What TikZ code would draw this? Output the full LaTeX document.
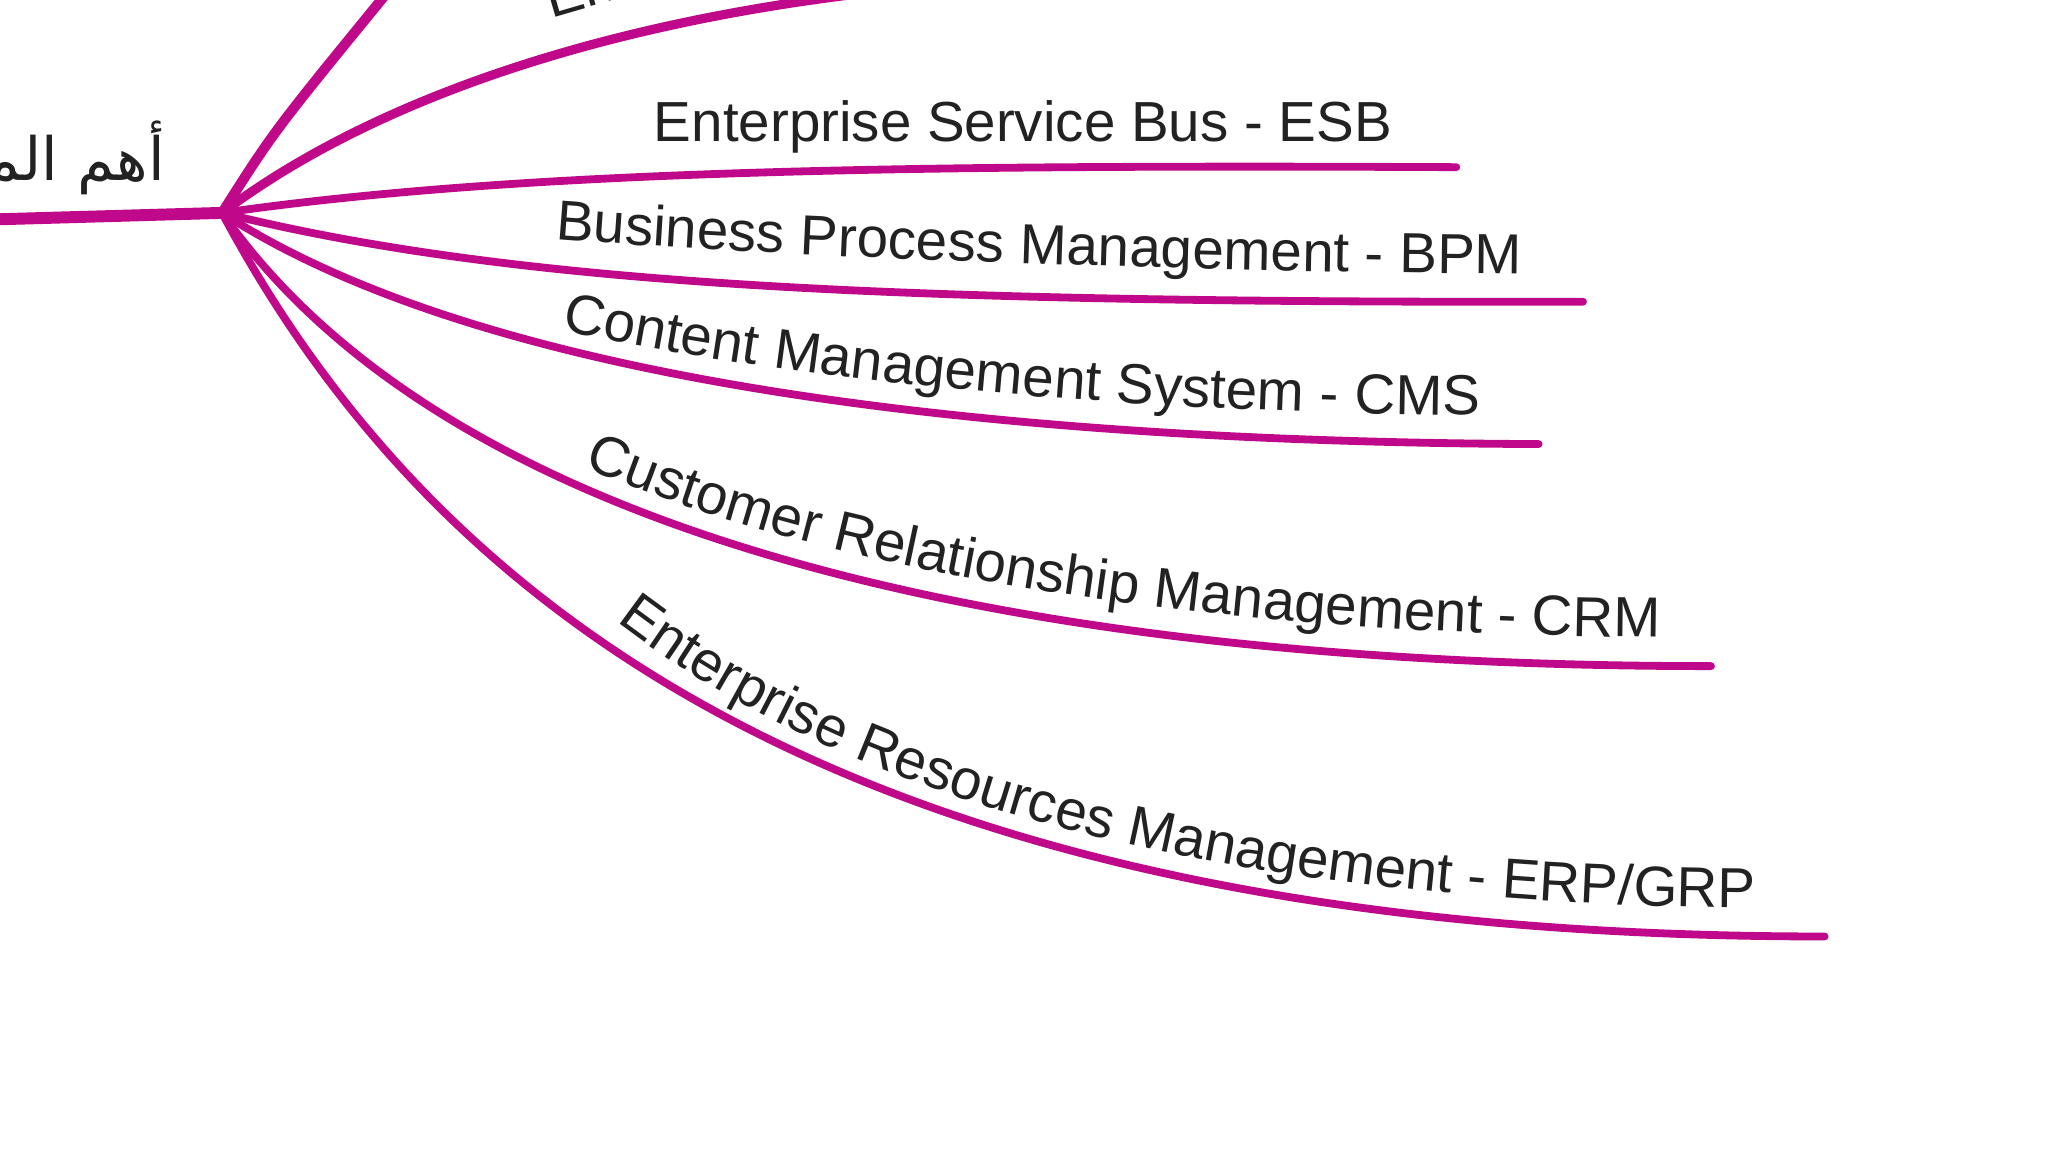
\documentclass[tikz,border=0pt]{standalone}
\usepackage{fontspec}
\setmainfont{Liberation Sans}
\newfontfamily\arabicfont[Script=Arabic]{DejaVu Sans}
\TeXXeTstate=1
\usetikzlibrary{decorations.text}
\definecolor{branch}{HTML}{C0098A}
\definecolor{ink}{HTML}{222222}
\tikzset{
  br/.style={draw=branch,line width=1.7pt,line cap=round},
  lbl/.style={font=\fontsize{12.3}{14}\selectfont,text=ink,inner sep=0pt},
  along/.style={decorate,decoration={text along path,text color=ink,
     text={|\fontsize{12.3}{14}\selectfont|#1}}}
}
\begin{document}
\begin{tikzpicture}[x=0.01cm,y=-0.01cm]
\fill[white] (0,0) rectangle (1568,882);
\useasboundingbox (0,0) rectangle (1568,882);
\clip (0,0) rectangle (1568,882);
\coordinate (hub) at (170,163);
\coordinate (left) at (-5,168);
\coordinate (e0) at (300,-10);
\coordinate (e1) at (660,-5);
\coordinate (eESB) at (1115,128);
\coordinate (eBPM) at (1212,231);
\coordinate (eCMS) at (1178,340);
\coordinate (eCRM) at (1310,510);
\coordinate (eERP) at (1397,717);
\draw[br,line width=2.6pt] (left) -- (hub);
\draw[br,line width=2.2pt] (hub) .. controls (210,100) .. (e0);
\draw[br,line width=2pt] (hub) .. controls (280,80) and (450,20) .. (e1);
\draw[br] (hub) .. controls (400,130) and (700,126) .. (eESB);
\draw[br] (hub) .. controls (400,220) and (700,232) .. (eBPM);
\draw[br] (hub) .. controls (350,280) and (700,338) .. (eCMS);
\draw[br] (hub) .. controls (350,420) and (800,510) .. (eCRM);
\draw[br] (hub) .. controls (350,500) and (700,717) .. (eERP);
\node[font=\arabicfont\fontsize{13}{15}\selectfont,text=ink,anchor=base east,inner sep=0pt] (ar) at (127,138) {\beginR أهم المصطلحات\endR};
\path[along={Enterprise}] (422,14) .. controls (470,0) .. (580,-30);
\node[lbl,anchor=base west] (esb) at (500,108) {Enterprise Service Bus - ESB};
\path[along={Business Process Management - BPM}] (425,183) .. controls (600,197) and (900,208) .. (1170,210);
\path[along={Content Management System - CMS}] (430,253) .. controls (600,290) and (850,316) .. (1135,318);
\path[along={Customer Relationship Management - CRM}] (447,358) .. controls (630,435) and (900,485) .. (1270,488);
\path[along={Enterprise Resources Management - ERP/GRP}] (472,476) .. controls (660,620) and (950,692) .. (1345,695);
\end{tikzpicture}
\end{document}
